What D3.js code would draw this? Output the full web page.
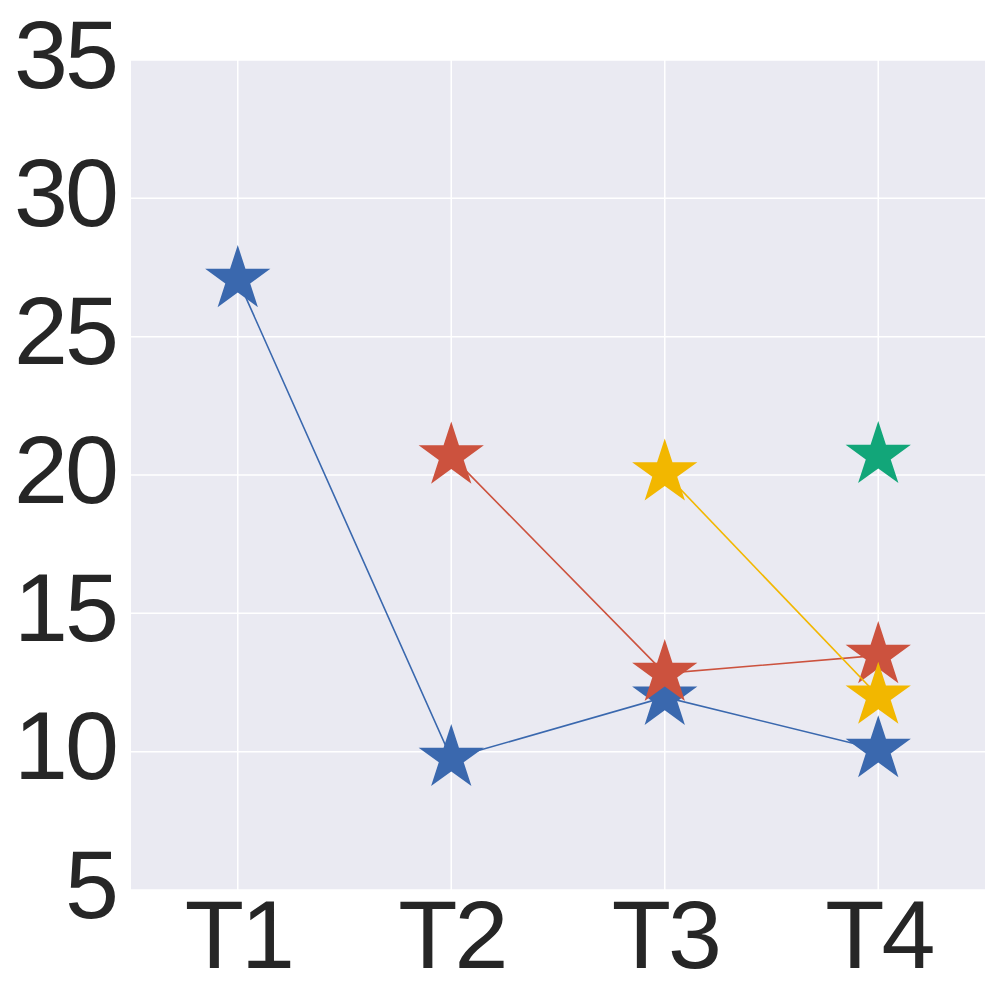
<!DOCTYPE html>
<html>
<head>
<meta charset="utf-8">
<script src="https://cdn.jsdelivr.net/npm/d3@7"></script>
<style>
  html, body { margin: 0; padding: 0; background: #ffffff; }
  svg { display: block; }
</style>
</head>
<body>
<div id="chart"></div>
<script>
// Categories and tick labels
const categories = ['T1', 'T2', 'T3', 'T4'];
const yTicks = [5, 10, 15, 20, 25, 30, 35];

// Series values (null = no point at that category)
const blueValues = [27.07, 9.76, 11.97, 10.08];
const redValues = [null, 20.69, 12.83, 13.48];
const yellowValues = [null, null, 20.08, 12.01];
const greenValues = [null, null, null, 20.71];

const seriesColors = ['#3a68ae', '#cc523e', '#f2b700', '#12a679'];
const seriesList = [blueValues, redValues, yellowValues, greenValues];

const width = 1000;
const height = 1000;
const margin = { top: 60, right: 15, bottom: 110, left: 131 };

const svg = d3.select('#chart')
  .append('svg')
  .attr('width', width)
  .attr('height', height);

// Scales: categories sit at integer positions, padded half a step on each side
const x = d3.scaleLinear()
  .domain([-0.5, categories.length - 0.5])
  .range([margin.left, width - margin.right]);

const y = d3.scaleLinear()
  .domain([5, 35])
  .range([height - margin.bottom, margin.top]);

// Background
svg.append('rect')
  .attr('x', margin.left)
  .attr('y', margin.top)
  .attr('width', width - margin.left - margin.right)
  .attr('height', height - margin.top - margin.bottom)
  .attr('fill', '#eaeaf2');

// Grid lines
const grid = svg.append('g').attr('stroke', '#ffffff').attr('stroke-width', 1.5);
grid.selectAll('line.h')
  .data(yTicks)
  .join('line')
  .attr('class', 'h')
  .attr('x1', margin.left)
  .attr('x2', width - margin.right)
  .attr('y1', (d) => y(d))
  .attr('y2', (d) => y(d));
grid.selectAll('line.v')
  .data(categories)
  .join('line')
  .attr('class', 'v')
  .attr('x1', (d, i) => x(i))
  .attr('x2', (d, i) => x(i))
  .attr('y1', margin.top)
  .attr('y2', height - margin.bottom);

// Axes (no domain line, no ticks, big labels like the reference)
const fontFamily = '"Liberation Sans", Arial, sans-serif';

const yAxis = svg.append('g')
  .attr('transform', `translate(${margin.left},0)`)
  .call(d3.axisLeft(y).tickValues(yTicks).tickSize(0).tickPadding(15));
yAxis.select('.domain').remove();
yAxis.selectAll('text')
  .attr('dy', '0.28em')
  .style('font-family', fontFamily)
  .style('font-size', '97px')
  .style('letter-spacing', '-3px')
  .style('fill', '#262626');

const xAxis = svg.append('g')
  .attr('transform', `translate(0,${height - margin.bottom})`)
  .call(d3.axisBottom(x).tickValues(d3.range(categories.length)).tickFormat((i) => categories[i]).tickSize(0).tickPadding(0));
xAxis.select('.domain').remove();
xAxis.selectAll('text')
  .attr('y', 78)
  .attr('dy', 0)
  .style('font-family', fontFamily)
  .style('font-size', '97px')
  .style('letter-spacing', '-3px')
  .style('fill', '#262626');

// Star marker path (outer radius R, matplotlib-like inner ratio)
const starR = 34.3;
function starPath(r) {
  const inner = r * 0.381966;
  const pts = [];
  for (let k = 0; k < 10; k++) {
    const rad = k % 2 === 0 ? r : inner;
    const a = -Math.PI / 2 + (k * Math.PI) / 5;
    pts.push([rad * Math.cos(a), rad * Math.sin(a)]);
  }
  return 'M' + pts.map((p) => p.join(',')).join('L') + 'Z';
}

const line = d3.line()
  .defined((d) => d.v !== null)
  .x((d) => x(d.i))
  .y((d) => y(d.v));

seriesList.forEach((values, s) => {
  const pts = values.map((v, i) => ({ v, i }));
  const g = svg.append('g');
  g.append('path')
    .datum(pts)
    .attr('d', line)
    .attr('fill', 'none')
    .attr('stroke', seriesColors[s])
    .attr('stroke-width', 1.6);
  g.selectAll('path.star')
    .data(pts.filter((d) => d.v !== null))
    .join('path')
    .attr('class', 'star')
    .attr('d', starPath(starR))
    .attr('transform', (d) => `translate(${x(d.i)},${y(d.v)})`)
    .attr('fill', seriesColors[s]);
});
</script>
</body>
</html>
